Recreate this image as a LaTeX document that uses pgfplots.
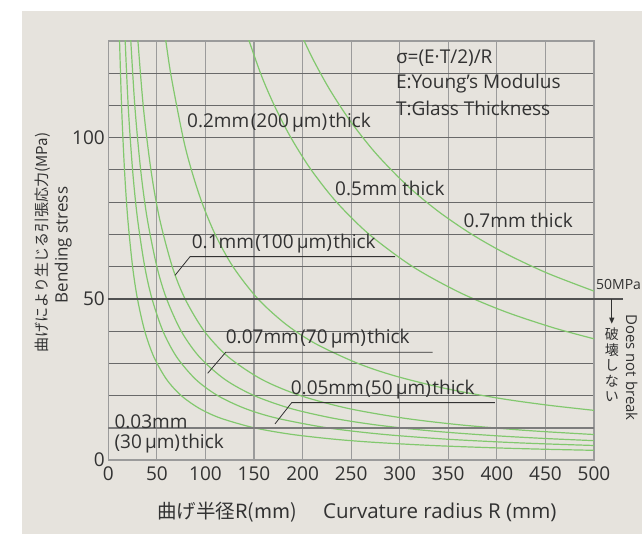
\documentclass[border=0pt]{standalone}
\usepackage{fontspec}
\setmainfont{Open Sans}
\newfontfamily\jp{Noto Sans CJK JP}
\usepackage{pgfplots}
\pgfplotsset{compat=1.18}
\usetikzlibrary{arrows.meta}
\definecolor{bg}{RGB}{230,227,221}
\definecolor{curve}{RGB}{130,200,110}
\definecolor{txt}{RGB}{50,50,50}
\definecolor{hgrid}{RGB}{105,105,105}
\definecolor{vgrid}{RGB}{155,155,155}
\newcommand{\lab}{\fontsize{19}{22}\selectfont}
\newcommand{\pl}{\hspace{1.5pt}(}
\newcommand{\pr}{)\hspace{1.5pt}}
\tikzset{crv/.style={draw=curve, solid, line width=1.2pt, mark=none, smooth}}
\begin{document}
\begin{tikzpicture}[x=1pt,y=1pt]
\fill[bg] (22,0) rectangle (642,523);
\begin{axis}[
  at={(108.3pt,74pt)}, anchor=south west,
  width=485.7pt, height=419pt, scale only axis,
  xmin=0, xmax=500, ymin=0, ymax=130,
  xtick={0,50,...,500},
  ytick={0,10,...,130},
  yticklabels={0,,,,,50,,,,,100,,,},
  grid=major,
  x grid style={vgrid, line width=1.1pt},
  y grid style={hgrid, line width=1.0pt},
  axis line style={vgrid, line width=1.3pt},
  tick style={draw=none},
  /pgf/number format/assume math mode=true,
  tick label style={font=\fontsize{19}{19}\selectfont, text=txt},
  xticklabel style={yshift=-3pt},
  clip mode=individual,
]
% 0.03 mm
\addplot[crv] coordinates {(11.11,135) (13.64,110) (16.67,90) (20,75) (25,60) (30,50) (37.5,40) (46.88,32) (60,25) (75,20) (93.75,16) (115.4,13) (150,10) (187.5,8) (230.8,6.5) (272.7,5.5) (333.3,4.5) (400,3.75) (450,3.33) (500,3.0)};
% 0.05 mm
\addplot[crv] coordinates {(16.67,135) (20.45,110) (25,90) (30,75) (37.5,60) (45,50) (56.25,40) (70.31,32) (90,25) (112.5,20) (140.6,16) (173.1,13) (225,10) (281.25,8) (346.2,6.5) (409.1,5.5) (450,5.0) (500,4.5)};
% 0.07 mm
\addplot[crv] coordinates {(22.22,135) (27.27,110) (33.33,90) (40,75) (50,60) (60,50) (75,40) (93.75,32) (120,25) (150,20) (187.5,16) (230.8,13) (272.7,11) (315.8,9.5) (352.9,8.5) (400,7.5) (450,6.667) (500,6.0)};
% 0.1 mm
\addplot[crv] coordinates {(29.26,135) (35.91,110) (43.89,90) (52.67,75) (65.83,60) (79,50) (98.75,40) (123.4,32) (158,25) (197.5,20) (246.9,16) (303.8,13) (359.1,11) (415.8,9.5) (450,8.78) (500,7.9)};
% 0.2 mm
\addplot[crv] coordinates {(57.04,135) (64.17,120) (77,100) (85.56,90) (96.25,80) (110,70) (128.3,60) (154,50) (183.3,42) (213.9,36) (256.7,30) (296.2,26) (350,22) (405.3,19) (452.9,17) (500,15.4)};
% 0.5 mm
\addplot[crv] coordinates {(139.3,135) (156.7,120) (170.9,110) (188,100) (208.9,90) (235,80) (268.6,70) (313.3,60) (361.5,52) (408.7,46) (458.5,41) (500,37.6)};
% 0.7 mm
\addplot[crv] coordinates {(194.1,135) (209.6,125) (227.8,115) (249.5,105) (275.8,95) (308.2,85) (340.3,77) (374.3,70) (409.4,64) (451.7,58) (500,52.4)};

\draw[vgrid!80!black, line width=1.5pt] (axis cs:0,10) -- (axis cs:500,10);
\draw[txt!85!white, line width=1.5pt] (axis cs:0,50) -- (axis cs:530,50);
\draw[txt, line width=1pt, -{Triangle[length=6pt,width=5pt]}] (axis cs:518.3,50) -- (axis cs:518.3,42.3);

\begin{scope}[every node/.style={inner sep=0pt, text=txt, font=\lab}]
\node[anchor=west] at (axis cs:81,104.7) {0.2mm\pl 200\,μm\pr thick};
\node[anchor=west] at (axis cs:296,124.6) {σ=(E·T/2)/R};
\node[anchor=west] at (axis cs:296,116.9) {E:Young’s Modulus};
\node[anchor=west] at (axis cs:296,109.1) {T:Glass Thickness};
\node[anchor=west] at (axis cs:233.4,84.4) {0.5mm thick};
\node[anchor=west] at (axis cs:365.5,74.2) {0.7mm thick};
\node[anchor=west] at (axis cs:85.8,67.2) {0.1mm\pl 100\,μm\pr thick};
\node[anchor=west] at (axis cs:120.8,37.8) {0.07mm\pl 70\,μm\pr thick};
\node[anchor=west] at (axis cs:187.7,21.7) {0.05mm\pl 50\,μm\pr thick};
\node[anchor=west] at (axis cs:6.2,11.9) {0.03mm};
\node[anchor=west] at (axis cs:6.2,5.2) {(30\,μm\pr thick};
\node[anchor=west, font=\fontsize{14}{14}\selectfont] at (axis cs:502,54.3) {50MPa};
\node[rotate=-90, font=\fontsize{15}{15}\selectfont] at (axis cs:538.8,28.7) {Does not break};
\node[align=center, font=\jp\fontsize{14}{15.5}\selectfont] at (axis cs:518.3,29.5) {破\\壊\\し\\な\\い};
\node[anchor=west, font=\jp\fontsize{19.5}{19.5}\selectfont] at (axis cs:50.1,-16.1) {曲げ半径R(mm)};
\node[anchor=west, font=\fontsize{20.5}{20.5}\selectfont] at (axis cs:221,-16.1) {Curvature radius R (mm)};
\node[rotate=90, font=\jp\fontsize{15}{15}\selectfont] at (axis cs:-67.7,67.5) {曲げにより生じる引張応力(MPa)};
\node[rotate=90, font=\fontsize{17}{17}\selectfont] at (axis cs:-46.3,66.7) {Bending stress};
\end{scope}
\draw[txt, line width=0.8pt] (axis cs:68.7,57.3) -- (axis cs:84.2,63.1) -- (axis cs:295.2,63.1);
\draw[txt, line width=0.8pt] (axis cs:102.3,26.9) -- (axis cs:120.8,33.4) -- (axis cs:334,33.4);
\draw[txt, line width=0.8pt] (axis cs:171.6,11.2) -- (axis cs:188.8,17.8) -- (axis cs:398,17.8);
\end{axis}
\pgfresetboundingbox
\useasboundingbox (0,0) rectangle (642,534);
\end{tikzpicture}
\end{document}
